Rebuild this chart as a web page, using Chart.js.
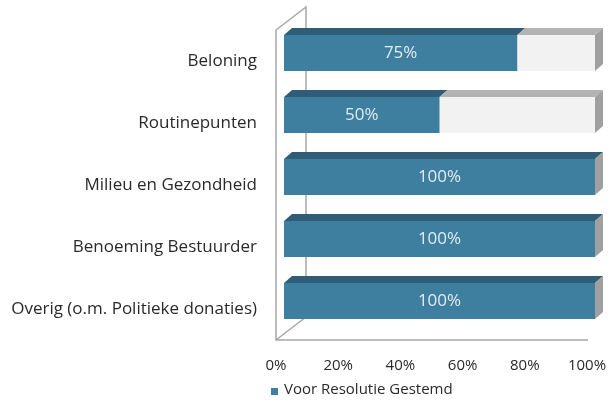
<!DOCTYPE html>
<html>
<head>
<meta charset="utf-8">
<script src="https://cdn.jsdelivr.net/npm/chart.js@4.4.1/dist/chart.umd.min.js"></script>
<style>
  html, body { margin: 0; padding: 0; background: #ffffff; }
  #wrap { width: 611px; height: 401px; position: relative; }
</style>
</head>
<body>
<div id="wrap"><canvas id="chart"></canvas></div>
<script>
const categories = [
    'Beloning',
    'Routinepunten',
    'Milieu en Gezondheid',
    'Benoeming Bestuurder',
    'Overig (o.m. Politieke donaties)'
];
const votedFor = [75, 50, 100, 100, 100];
const remainder = [25, 50, 0, 0, 0];
const xTicks = [0, 20, 40, 60, 80, 100];

const FONT = '"Open Sans"';
const TEXT = '#2a2a2a';
const BLUE = '#3e7fa0';
const BLUE_TOP = '#2f5d78';
const GREY = '#f2f2f2';
const GREY_TOP = '#b3b3b3';
const SIDE = '#a0a0a0';
const WALL = '#a6a6a6';

// bars sit a little behind the front plane of the wall box
const BAR_SHIFT = { x: 8, y: 8 };
const BAR_DEPTH = { x: 8, y: 7 };
const WALL_DEPTH = { x: 30, y: 23 };

const box3d = {
    id: 'box3d',
    beforeDatasetsDraw(chart) {
        const { ctx, chartArea: a } = chart;
        ctx.save();
        ctx.strokeStyle = WALL;
        ctx.lineWidth = 1.5;
        ctx.beginPath();
        ctx.moveTo(a.right + 1, a.bottom);
        ctx.lineTo(a.left, a.bottom);
        ctx.lineTo(a.left, a.top);
        ctx.lineTo(a.left + WALL_DEPTH.x, a.top - WALL_DEPTH.y);
        ctx.lineTo(a.left + WALL_DEPTH.x, a.bottom - WALL_DEPTH.y);
        ctx.lineTo(a.left, a.bottom);
        ctx.stroke();
        ctx.restore();

        ctx.save();
        ctx.translate(BAR_SHIFT.x, -BAR_SHIFT.y);
    },
    afterDatasetsDraw(chart) {
        const { ctx } = chart;
        const tops = [BLUE_TOP, GREY_TOP];
        const rightEdge = [];

        chart.data.datasets.forEach((ds, di) => {
            const meta = chart.getDatasetMeta(di);
            meta.data.forEach((bar, i) => {
                const p = bar.getProps(['x', 'y', 'base', 'height'], true);
                const l = Math.min(p.x, p.base);
                const r = Math.max(p.x, p.base);
                if (r - l < 0.5) return;
                const t = p.y - p.height / 2;
                ctx.fillStyle = tops[di];
                ctx.beginPath();
                ctx.moveTo(l, t);
                ctx.lineTo(l + BAR_DEPTH.x, t - BAR_DEPTH.y);
                ctx.lineTo(r + BAR_DEPTH.x, t - BAR_DEPTH.y);
                ctx.lineTo(r, t);
                ctx.closePath();
                ctx.fill();
                if (rightEdge[i] === undefined || r > rightEdge[i].r) {
                    rightEdge[i] = { r, t, b: t + p.height };
                }
            });
        });

        // side face on the far end of each bar
        ctx.fillStyle = SIDE;
        rightEdge.forEach(e => {
            ctx.beginPath();
            ctx.moveTo(e.r, e.t);
            ctx.lineTo(e.r + BAR_DEPTH.x, e.t - BAR_DEPTH.y);
            ctx.lineTo(e.r + BAR_DEPTH.x, e.b - BAR_DEPTH.y);
            ctx.lineTo(e.r, e.b);
            ctx.closePath();
            ctx.fill();
        });

        // value labels on the blue part
        const meta = chart.getDatasetMeta(0);
        ctx.fillStyle = '#e2ebf1';
        ctx.font = '17px ' + FONT;
        ctx.textAlign = 'center';
        ctx.textBaseline = 'middle';
        meta.data.forEach((bar, i) => {
            const p = bar.getProps(['x', 'y', 'base'], true);
            ctx.fillText(votedFor[i] + '%', (p.x + p.base) / 2, p.y);
        });

        ctx.restore();
    },
    afterDraw(chart) {
        const { ctx } = chart;
        ctx.save();
        ctx.fillStyle = BLUE;
        ctx.fillRect(271, 388, 7, 7);
        ctx.fillStyle = TEXT;
        ctx.font = '15px ' + FONT;
        ctx.textAlign = 'left';
        ctx.textBaseline = 'middle';
        ctx.fillText(chart.data.datasets[0].label, 284, 390);
        ctx.restore();
    }
};

new Chart(document.getElementById('chart'), {
    type: 'bar',
    data: {
        labels: categories,
        datasets: [
            {
                label: 'Voor Resolutie Gestemd',
                data: votedFor,
                backgroundColor: BLUE,
                borderWidth: 0,
                clip: false
            },
            {
                label: 'Tegen',
                data: remainder,
                backgroundColor: GREY,
                borderWidth: 0,
                clip: false
            }
        ]
    },
    options: {
        indexAxis: 'y',
        responsive: true,
        maintainAspectRatio: false,
        animation: false,
        events: [],
        layout: { padding: { top: 30, right: 24, bottom: 0, left: 0 } },
        datasets: {
            bar: { barPercentage: 0.58, categoryPercentage: 1 }
        },
        plugins: {
            legend: { display: false },
            tooltip: { enabled: false }
        },
        scales: {
            x: {
                stacked: true,
                min: 0,
                max: 100,
                grid: { display: false, drawTicks: false },
                border: { display: false },
                afterBuildTicks: scale => {
                    scale.ticks = xTicks.map(v => ({ value: v }));
                },
                afterFit: scale => {
                    scale.height = 61;
                    scale.paddingLeft = 0;
                    scale.paddingRight = 0;
                },
                ticks: {
                    padding: 17,
                    color: TEXT,
                    font: { family: FONT, size: 15 },
                    maxRotation: 0,
                    callback: v => v + '%'
                }
            },
            y: {
                stacked: true,
                grid: { display: false, drawTicks: false },
                border: { display: false },
                afterFit: scale => { scale.width = 276; },
                ticks: {
                    padding: 19,
                    color: TEXT,
                    font: { family: FONT, size: 17 }
                }
            }
        }
    },
    plugins: [box3d]
});
</script>
</body>
</html>
